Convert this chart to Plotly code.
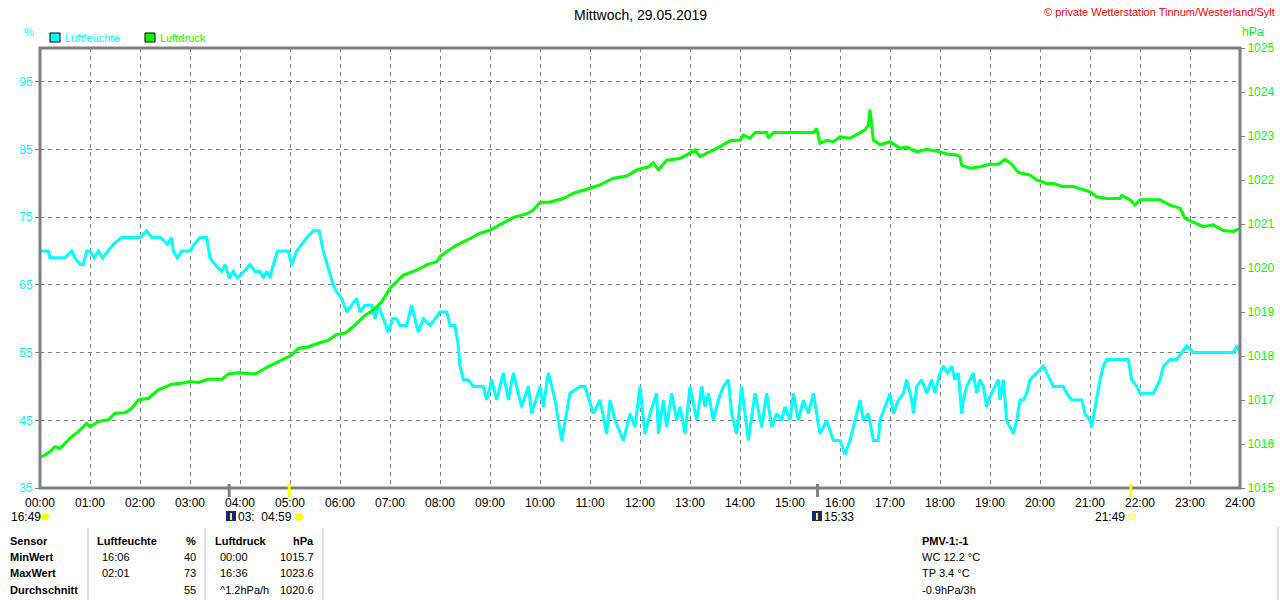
import plotly.graph_objects as go

# Luftfeuchte (%) - Zeit / Wert
hum_time = ["00:00", "00:10", "00:12", "00:30", "00:38", "00:42", "00:48", "00:52", "00:56", "01:00",
            "01:05", "01:10", "01:15", "01:22", "01:28", "01:38", "02:00", "02:08", "02:14", "02:25",
            "02:33", "02:38", "02:40", "02:45", "02:50", "03:00", "03:05", "03:12", "03:20", "03:24",
            "03:30", "03:38", "03:42", "03:47", "03:52", "03:57", "04:05", "04:12", "04:18", "04:24",
            "04:28", "04:32", "04:36", "04:40", "04:45", "04:58", "05:02", "05:08", "05:14", "05:20",
            "05:28", "05:35", "05:40", "05:45", "05:52", "05:56", "06:02", "06:08", "06:14", "06:20",
            "06:24", "06:30", "06:38", "06:42", "06:46", "06:52", "06:58", "07:03", "07:08", "07:12",
            "07:20", "07:26", "07:30", "07:34", "07:40", "07:48", "07:54", "08:00", "08:08", "08:12",
            "08:18", "08:22", "08:24", "08:28", "08:34", "08:40", "08:52", "08:56", "09:02", "09:08",
            "09:16", "09:22", "09:28", "09:38", "09:46", "09:50", "10:00", "10:04", "10:10", "10:18",
            "10:26", "10:30", "10:36", "10:48", "10:54", "11:04", "11:12", "11:20", "11:24", "11:30",
            "11:40", "11:48", "11:54", "12:00", "12:06", "12:12", "12:20", "12:22", "12:28", "12:32",
            "12:38", "12:44", "12:48", "12:54", "13:00", "13:08", "13:14", "13:18", "13:22", "13:28",
            "13:34", "13:40", "13:46", "13:50", "13:56", "14:02", "14:10", "14:18", "14:26", "14:32",
            "14:38", "14:44", "14:50", "14:54", "15:00", "15:04", "15:10", "15:16", "15:22", "15:28",
            "15:36", "15:44", "15:52", "16:00", "16:06", "16:12", "16:18", "16:24", "16:28", "16:34",
            "16:40", "16:46", "16:48", "16:54", "17:00", "17:04", "17:10", "17:16", "17:20", "17:26",
            "17:28", "17:32", "17:38", "17:44", "17:50", "17:54", "18:00", "18:04", "18:09", "18:14",
            "18:18", "18:22", "18:26", "18:28", "18:32", "18:36", "18:40", "18:44", "18:48", "18:52",
            "18:56", "18:58", "19:02", "19:06", "19:10", "19:12", "19:16", "19:20", "19:24", "19:28",
            "19:32", "19:36", "19:40", "19:44", "19:48", "19:56", "20:04", "20:08", "20:16", "20:28",
            "20:32", "20:38", "20:44", "20:50", "20:54", "21:00", "21:02", "21:08", "21:12", "21:16",
            "21:20", "21:46", "21:50", "21:56", "22:00", "22:16", "22:24", "22:28", "22:36", "22:44",
            "22:50", "22:56", "23:04", "23:52", "23:56", "24:00"]
hum_val = [70, 70, 69, 69, 70, 69, 68, 68, 70, 70,
           69, 70, 69, 70, 71, 72, 72, 73, 72, 72,
           71, 72, 70, 69, 70, 70, 71, 72, 72, 69,
           68, 67, 68, 66, 67, 66, 67, 68, 67, 67,
           66, 67, 66, 68, 70, 70, 68, 70, 71, 72,
           73, 73, 70, 68, 65, 64, 63, 61, 62, 63,
           61, 62, 62, 60, 62, 60, 58, 60, 60, 59,
           59, 62, 60, 58, 60, 59, 60, 61, 61, 59,
           59, 56, 53, 51, 51, 50, 50, 48, 51, 48,
           52, 48, 52, 47, 50, 46, 50, 47, 52, 48,
           42, 45, 49, 50, 50, 46, 48, 43, 48, 45,
           42, 46, 44, 50, 43, 46, 49, 43, 48, 44,
           49, 45, 47, 43, 50, 45, 50, 47, 49, 45,
           48, 50, 51, 46, 43, 50, 42, 49, 44, 49,
           44, 46, 45, 47, 45, 49, 45, 48, 46, 49,
           43, 45, 42, 42, 40, 42, 45, 48, 45, 46,
           42, 42, 45, 47, 49, 46, 48, 49, 51, 48,
           46, 50, 51, 49, 51, 49, 52, 53, 52, 53,
           51, 52, 46, 48, 50, 51, 52, 49, 51, 50,
           47, 48, 49, 50, 51, 48, 51, 45, 44, 43,
           45, 48, 48, 49, 51, 52, 53, 52, 50, 50,
           49, 48, 48, 48, 46, 45, 44, 48, 51, 53,
           54, 54, 51, 50, 49, 49, 51, 53, 54, 54,
           55, 56, 55, 55, 56, 55]

# Luftdruck (hPa)
prs_time = ["00:00", "00:06", "00:12", "00:18", "00:24", "00:30", "00:38", "00:46", "00:52", "00:56",
            "01:00", "01:10", "01:22", "01:30", "01:42", "01:50", "01:58", "02:10", "02:22", "02:38",
            "02:50", "03:00", "03:10", "03:22", "03:38", "03:46", "03:58", "04:18", "04:34", "04:50",
            "05:02", "05:10", "05:22", "05:34", "05:46", "05:56", "06:06", "06:16", "06:28", "06:40",
            "06:50", "07:00", "07:10", "07:16", "07:32", "07:44", "07:56", "08:00", "08:08", "08:20",
            "08:36", "08:48", "09:00", "09:12", "09:28", "09:44", "09:52", "10:00", "10:12", "10:28",
            "10:40", "10:56", "11:12", "11:28", "11:44", "11:56", "12:10", "12:16", "12:22", "12:32",
            "12:48", "12:56", "13:06", "13:12", "13:24", "13:36", "13:48", "14:00", "14:04", "14:12",
            "14:18", "14:32", "14:34", "14:40", "15:28", "15:32", "15:36", "15:44", "15:52", "16:00",
            "16:12", "16:22", "16:30", "16:34", "16:36", "16:40", "16:48", "17:00", "17:12", "17:20",
            "17:32", "17:44", "18:00", "18:08", "18:20", "18:24", "18:26", "18:36", "18:48", "19:00",
            "19:10", "19:18", "19:26", "19:34", "19:48", "19:56", "20:08", "20:16", "20:28", "20:40",
            "20:52", "21:00", "21:08", "21:20", "21:36", "21:38", "21:48", "21:54", "22:00", "22:24",
            "22:36", "22:48", "22:54", "23:04", "23:16", "23:28", "23:40", "23:52", "24:00"]
prs_val = [1015.70, 1015.75, 1015.83, 1015.94, 1015.90, 1016.02, 1016.17, 1016.28, 1016.40, 1016.47,
           1016.39, 1016.51, 1016.55, 1016.70, 1016.71, 1016.81, 1017.00, 1017.04, 1017.23, 1017.36,
           1017.38, 1017.42, 1017.40, 1017.47, 1017.47, 1017.59, 1017.62, 1017.59, 1017.76, 1017.91,
           1018.02, 1018.17, 1018.21, 1018.29, 1018.36, 1018.49, 1018.52, 1018.67, 1018.89, 1019.05,
           1019.23, 1019.54, 1019.73, 1019.84, 1019.95, 1020.07, 1020.14, 1020.26, 1020.37, 1020.52,
           1020.67, 1020.79, 1020.86, 1020.98, 1021.15, 1021.23, 1021.32, 1021.49, 1021.50, 1021.58,
           1021.70, 1021.79, 1021.89, 1022.04, 1022.09, 1022.23, 1022.30, 1022.39, 1022.23, 1022.45,
           1022.49, 1022.57, 1022.68, 1022.53, 1022.64, 1022.76, 1022.89, 1022.91, 1023.02, 1022.95,
           1023.08, 1023.08, 1022.95, 1023.08, 1023.08, 1023.17, 1022.83, 1022.90, 1022.87, 1022.98,
           1022.95, 1023.06, 1023.14, 1023.25, 1023.60, 1022.91, 1022.80, 1022.87, 1022.72, 1022.75,
           1022.64, 1022.70, 1022.64, 1022.59, 1022.57, 1022.53, 1022.34, 1022.27, 1022.30, 1022.36,
           1022.36, 1022.47, 1022.36, 1022.17, 1022.11, 1022.00, 1021.92, 1021.92, 1021.85, 1021.85,
           1021.77, 1021.73, 1021.62, 1021.58, 1021.58, 1021.65, 1021.55, 1021.43, 1021.55, 1021.55,
           1021.43, 1021.36, 1021.13, 1021.05, 1020.94, 1020.98, 1020.85, 1020.83, 1020.90]

hours = list(range(25))
hour_labels = ["%02d:00" % h for h in hours]
hum_ticks = [35, 45, 55, 65, 75, 85, 95]
prs_ticks = list(range(1015, 1026))

# Tabelle unten
sensor_rows = ["Sensor", "MinWert", "MaxWert", "Durchschnitt"]
hum_times = ["16:06", "02:01", ""]
hum_stats = ["40", "73", "55"]
prs_times = ["00:00", "16:36", "^1.2hPa/h"]
prs_stats = ["1015.7", "1023.6", "1020.6"]
pmv_lines = ["WC 12.2 °C", "TP 3.4 °C", "-0.9hPa/3h"]

CYAN = "#00ffff"
GREEN = "#00ff00"
GRAY = "#808080"
YELLOW = "#ffff00"
FONT = "Liberation Sans"


def to_h(t):
    hh, mm = t.split(":")
    return int(hh) + int(mm) / 60.0


# pixel -> paper (Plotbereich 40..1240 x 48..488)
def px(x):
    return (x - 40) / 1200.0


def py(y):
    return (488 - y) / 440.0


fig = go.Figure()
fig.add_trace(go.Scatter(x=[to_h(t) for t in hum_time], y=hum_val, mode="lines",
                         line=dict(color=CYAN, width=3), name="Luftfeuchte"))
fig.add_trace(go.Scatter(x=[to_h(t) for t in prs_time], y=prs_val, mode="lines",
                         line=dict(color=GREEN, width=3), name="Luftdruck", yaxis="y2"))

fig.update_layout(
    width=1280, height=600,
    margin=dict(l=40, r=40, t=48, b=112),
    paper_bgcolor="white", plot_bgcolor="white",
    showlegend=False,
    font=dict(family=FONT, size=11, color="black"),
    xaxis=dict(range=[0, 24], tickvals=hours, ticktext=hour_labels, showgrid=True,
               gridcolor=GRAY, griddash="4px,4px", gridwidth=1, zeroline=False, automargin=False,
               ticks="", ticklabelstandoff=6, tickfont=dict(size=12, color="black"), showline=False),
    yaxis=dict(range=[35, 100], tickvals=hum_ticks, showgrid=True, gridcolor=GRAY,
               griddash="4px,4px", gridwidth=1, zeroline=False, ticks="outside", automargin=False,
               ticklen=4, tickcolor=GRAY, tickfont=dict(size=12, color=CYAN), showline=False),
    yaxis2=dict(range=[1015, 1025], tickvals=prs_ticks, overlaying="y", side="right",
                showgrid=False, zeroline=False, ticks="outside", ticklen=4, tickcolor=GRAY,
                automargin=False, tickfont=dict(size=12, color=GREEN), showline=False),
)

shapes = [dict(type="rect", xref="paper", yref="paper", x0=0, x1=1, y0=0, y1=1,
               line=dict(color=GRAY, width=3))]
# Sonnen-/Mond-Markierungen an der Zeitachse
for t, c in [("03:47", GRAY), ("04:59", YELLOW), ("15:33", GRAY), ("21:49", YELLOW)]:
    shapes.append(dict(type="line", xref="x", yref="paper", x0=to_h(t), x1=to_h(t),
                       y0=py(484), y1=py(497), line=dict(color=c, width=3)))
# Legende
shapes.append(dict(type="rect", xref="paper", yref="paper", x0=px(50), x1=px(60),
                   y0=py(42), y1=py(33), fillcolor=CYAN, line=dict(color="black", width=1)))
shapes.append(dict(type="rect", xref="paper", yref="paper", x0=px(145), x1=px(155),
                   y0=py(42), y1=py(33), fillcolor=GREEN, line=dict(color="black", width=1)))
# Mond-Symbole
for x0 in [226, 812]:
    shapes.append(dict(type="rect", xref="paper", yref="paper", x0=px(x0), x1=px(x0 + 10),
                       y0=py(521), y1=py(511), fillcolor="#1a237e", line=dict(width=0)))
    shapes.append(dict(type="line", xref="paper", yref="paper", x0=px(x0 + 5), x1=px(x0 + 5),
                       y0=py(520), y1=py(513), line=dict(color=YELLOW, width=2)))
# Wolke 16:49, Sonne 04:59, kleines Quadrat 21:49
shapes.append(dict(type="circle", xref="paper", yref="paper", x0=px(40), x1=px(49),
                   y0=py(520), y1=py(513), fillcolor=YELLOW, line=dict(width=0)))
shapes.append(dict(type="circle", xref="paper", yref="paper", x0=px(295), x1=px(303),
                   y0=py(521), y1=py(513), fillcolor=YELLOW, line=dict(color="#ffee88", width=1)))
shapes.append(dict(type="rect", xref="paper", yref="paper", x0=px(1129), x1=px(1134),
                   y0=py(519), y1=py(514), line=dict(color=YELLOW, width=1)))
# Tabellen-Trenner
for xs in [88, 205, 323]:
    shapes.append(dict(type="line", xref="paper", yref="paper", x0=px(xs), x1=px(xs),
                       y0=py(528), y1=py(600), line=dict(color="#c0c0c0", width=1)))
shapes.append(dict(type="line", xref="paper", yref="paper", x0=px(1278), x1=px(1278),
                   y0=py(527), y1=py(600), line=dict(color="#c0c0c0", width=1)))
fig.update_layout(shapes=shapes)


def txt(x, y, s, color="black", size=11, anchor="left", bold=False):
    fig.add_annotation(xref="paper", yref="paper", x=px(x), y=py(y), text=("<b>%s</b>" % s) if bold else s,
                       showarrow=False, xanchor=anchor, yanchor="middle",
                       font=dict(family=FONT, size=size, color=color))


txt(640, 15, "Mittwoch, 29.05.2019", size=14, anchor="center")
txt(1277, 12, "© private Wetterstation Tinnum/Westerland/Sylt", color="#ff0000", size=11, anchor="right")
txt(22, 32, "%", color=CYAN, size=11)
txt(1240, 32, "hPa", color=GREEN, size=12)
txt(63, 38, "Luftfeuchte", color=CYAN, size=11)
txt(158, 38, "Luftdruck", color=GREEN, size=11)

txt(9, 517, "16:49", size=12)
txt(236, 517, "03:  04:59", size=12)
txt(822, 517, "15:33", size=12)
txt(1127, 517, "21:49", size=12, anchor="right")

row_y = [541, 557, 573, 590]
for s, yy in zip(sensor_rows, row_y):
    txt(8, yy, s, size=11, bold=True)
txt(95, 541, "Luftfeuchte", bold=True)
txt(198, 541, "%", bold=True, anchor="right")
txt(213, 541, "Luftdruck", bold=True)
txt(316, 541, "hPa", bold=True, anchor="right")
for i, yy in enumerate(row_y[1:]):
    txt(100, yy, hum_times[i])
    txt(198, yy, hum_stats[i], anchor="right")
    txt(218, yy, prs_times[i])
    txt(316, yy, prs_stats[i], anchor="right")
txt(920, 541, "PMV-1:-1", bold=True)
for s, yy in zip(pmv_lines, row_y[1:]):
    txt(920, yy, s)

fig.write_html("out.html", config={"displayModeBar": False},
               post_script="document.body.style.margin='0';document.body.style.overflow='hidden';")
